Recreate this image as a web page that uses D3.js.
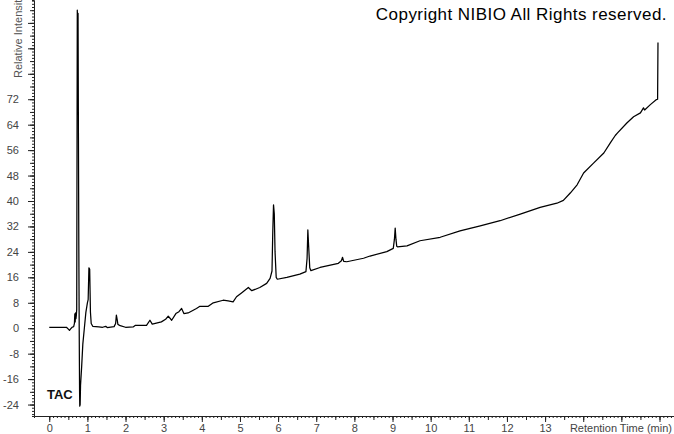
<!DOCTYPE html>
<html>
<head>
<meta charset="utf-8">
<script src="https://cdn.jsdelivr.net/npm/d3@7"></script>
<style>
  body { margin: 0; background: #fff; }
  svg { display: block; font-family: Arial, "Liberation Sans", sans-serif; }
  .axis path, .axis line { stroke: #222; }
  .axis text { fill: #444; font-size: 11px; }
</style>
</head>
<body>
<svg id="chart" width="674" height="434"></svg>
<script>
// retention time (min) and relative intensity
var times = [0.00, 0.45, 0.50, 0.53, 0.56, 0.60, 0.64, 0.66, 0.67, 0.68, 0.69, 0.70, 0.71, 0.72,
  0.735, 0.745, 0.755, 0.765, 0.775, 0.785, 0.795, 0.80, 0.81, 0.82, 0.85, 0.88, 0.92, 0.96, 1.00, 1.02,
  1.04, 1.06, 1.08, 1.10, 1.14, 1.30, 1.40, 1.48, 1.52, 1.70, 1.74, 1.76, 1.78, 1.80, 1.86,
  2.00, 2.20, 2.26, 2.55, 2.64, 2.70, 2.94, 3.05, 3.12, 3.21, 3.32, 3.40, 3.47, 3.53, 3.64,
  3.86, 3.95, 4.17, 4.30, 4.56, 4.69, 4.82, 4.91, 5.04, 5.22, 5.31, 5.52, 5.70, 5.79, 5.84,
  5.86, 5.88, 5.90, 5.92, 5.95, 5.98, 6.23, 6.57, 6.73, 6.76, 6.78, 6.80, 6.83, 6.86, 7.10,
  7.58, 7.66, 7.69, 7.72, 7.80, 8.24, 8.41, 8.85, 9.02, 9.05, 9.07, 9.09, 9.11, 9.13, 9.38,
  9.72, 10.25, 10.77, 11.30, 11.82, 12.35, 12.87, 13.31, 13.48, 13.66, 13.84, 14.01, 14.27,
  14.54, 14.71, 14.84, 14.90, 15.15, 15.32, 15.50, 15.58, 15.61, 15.76, 15.92, 15.95, 15.96];
var intensity = [0.3, 0.3, -0.3, -0.7, -0.2, 0.3, 0.5, 1.5, 4.5, 2, 4.8, 3, 4, 6,
  100, 95, 99, 60, 26, 0, -20, -24.5, -24, -18, -12, -5, 0, 5, 8, 9,
  19, 18.5, 5, 1.5, 0.6, 0.4, 0.3, 0.6, 0.2, 0.5, 1.5, 4.1, 2.8, 1.2, 0.8,
  0.3, 0.4, 0.9, 0.9, 2.5, 1.3, 2.0, 2.8, 3.8, 2.5, 4.6, 5.2, 6.2, 4.6, 4.8,
  6.2, 6.9, 6.9, 8.0, 8.8, 8.6, 8.3, 9.9, 11.1, 12.8, 11.8, 12.8, 14.1, 15.7, 18,
  30, 38.8, 36, 24, 16, 15.4, 16, 17, 17.8, 22, 30.9, 26, 19, 18.1, 19.1,
  20.4, 21.2, 22.3, 21, 20.9, 22, 22.7, 24.1, 25.1, 28, 31.5, 28, 25.8, 25.6, 25.9,
  27.5, 28.6, 30.6, 32.2, 33.8, 35.9, 38, 39.3, 40.2, 42.5, 45.1, 48.8, 51.9,
  55.1, 58.3, 60.6, 61.4, 64.6, 66.5, 67.7, 69.3, 68.6, 70.3, 71.9, 72, 89.8];

var xLabelTicks = d3.range(0, 14, 1);
var yLabelTicks = [-24, -16, -8, 0, 8, 16, 24, 32, 40, 48, 56, 64, 72];

function draw() {
  var svg = d3.select('#chart');
  var axisX = 34, axisY = 416;

  var x = d3.scaleLinear().domain([-0.4, 16.38]).range([axisX, 674]);
  var y = d3.scaleLinear().domain([-27.6, 103.2]).range([axisY, 0]);

  // x axis: minor 0.1, medium 0.5, major 1
  var xMinor = d3.range(0, 164).map(function(i) { return +(i * 0.1).toFixed(1); });
  var xMed = d3.range(0, 33).map(function(i) { return i * 0.5; });
  var xMajor = d3.range(0, 17);

  svg.append('g').attr('class', 'axis')
    .attr('transform', 'translate(0,' + axisY + ')')
    .call(d3.axisBottom(x).tickValues(xMinor).tickSize(2).tickFormat(''));
  svg.append('g').attr('class', 'axis')
    .attr('transform', 'translate(0,' + axisY + ')')
    .call(d3.axisBottom(x).tickValues(xMed).tickSize(4).tickFormat(''))
    .select('.domain').remove();
  svg.append('g').attr('class', 'axis')
    .attr('transform', 'translate(0,' + axisY + ')')
    .call(d3.axisBottom(x).tickValues(xMajor).tickSize(6).tickPadding(2)
      .tickFormat(function(d) { return xLabelTicks.indexOf(d) >= 0 ? d : ''; }))
    .select('.domain').remove();

  // y axis: minor 1, medium 4, major 8
  var yMinor = d3.range(-27, 104);
  var yMed = d3.range(-24, 104, 4);
  var yMajor = d3.range(-24, 104, 8);

  svg.append('g').attr('class', 'axis')
    .attr('transform', 'translate(' + axisX + ',0)')
    .call(d3.axisLeft(y).tickValues(yMinor).tickSize(2).tickFormat(''));
  svg.append('g').attr('class', 'axis')
    .attr('transform', 'translate(' + axisX + ',0)')
    .call(d3.axisLeft(y).tickValues(yMed).tickSize(4).tickFormat(''))
    .select('.domain').remove();
  svg.append('g').attr('class', 'axis')
    .attr('transform', 'translate(' + axisX + ',0)')
    .call(d3.axisLeft(y).tickValues(yMajor).tickSize(6).tickPadding(9)
      .tickFormat(function(d) { return yLabelTicks.indexOf(d) >= 0 ? d : ''; }))
    .select('.domain').remove();

  // axis titles (the y title runs off the top, as in the original)
  svg.append('text')
    .attr('transform', 'translate(22,78) rotate(-90)')
    .attr('fill', '#555').attr('font-size', 11)
    .text('Relative Intensity');
  svg.append('rect').attr('x', 670).attr('y', 419).attr('width', 4).attr('height', 15).attr('fill', '#fff');
  svg.append('text')
    .attr('x', 672).attr('y', 432)
    .attr('text-anchor', 'end')
    .attr('fill', '#444').attr('font-size', 11)
    .text('Retention Time (min)');

  // trace
  var pts = times.map(function(t, i) { return [t, intensity[i]]; });
  var line = d3.line()
    .x(function(d) { return x(d[0]); })
    .y(function(d) { return y(d[1]); });
  svg.append('path')
    .datum(pts)
    .attr('d', line)
    .attr('fill', 'none')
    .attr('stroke', '#000')
    .attr('stroke-width', 1.25)
    .attr('stroke-linejoin', 'round');

  svg.append('text')
    .attr('x', 47).attr('y', 399)
    .attr('font-size', 13).attr('font-weight', 'bold').attr('fill', '#111')
    .text('TAC');

  svg.append('text')
    .attr('x', 667).attr('y', 20)
    .attr('text-anchor', 'end')
    .attr('font-size', 17).attr('letter-spacing', 0.45).attr('fill', '#000')
    .text('Copyright NIBIO All Rights reserved.');
}

window.onload = draw;
</script>
</body>
</html>
